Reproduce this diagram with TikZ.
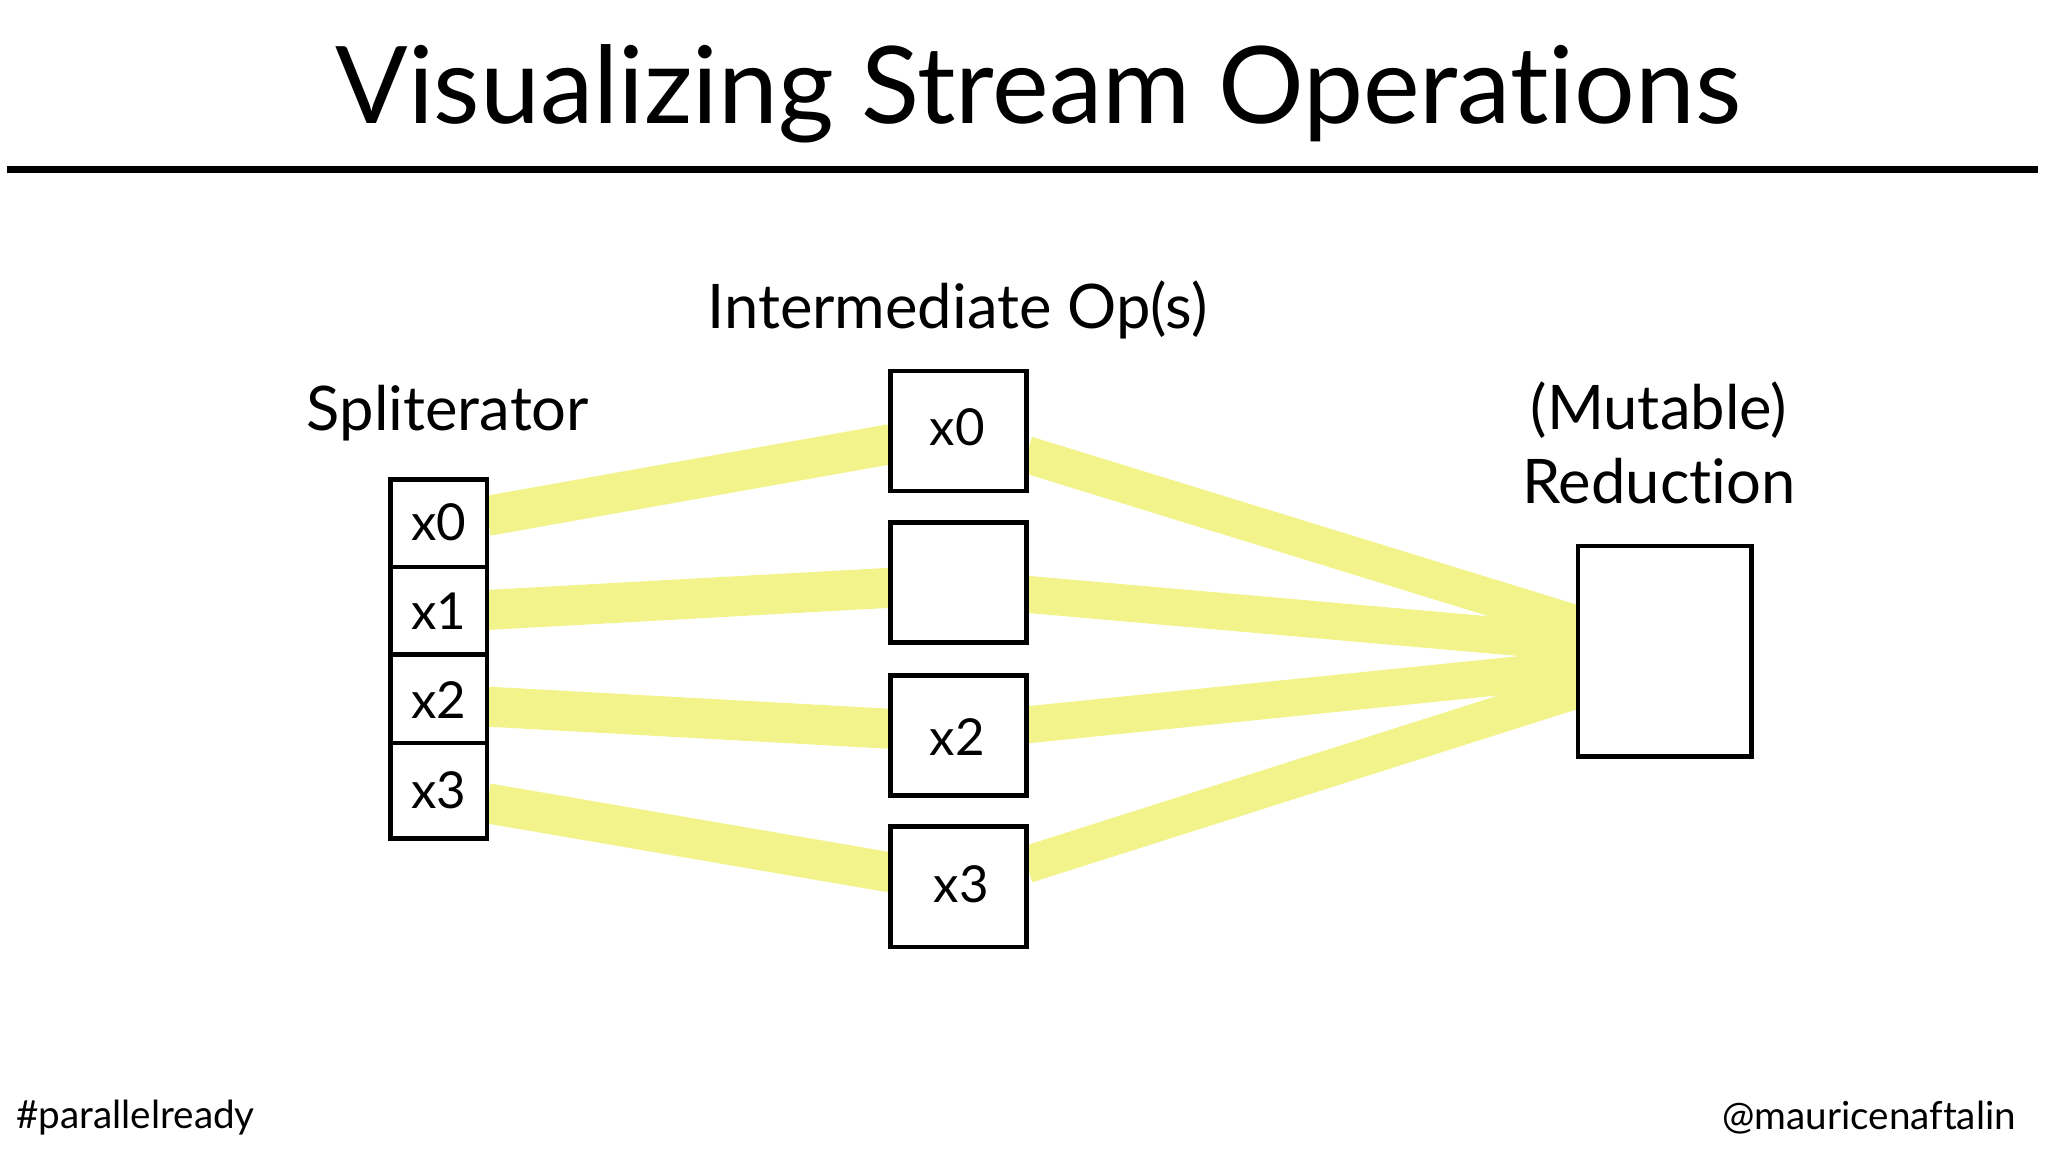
\documentclass[tikz,border=0pt]{standalone}
\usepackage{fontspec}
\setmainfont[Ligatures=NoCommon]{Lato}
\begin{document}
\begin{tikzpicture}[x=0.013061cm,y=-0.013061cm,
  band/.style={draw={rgb,255:red,243;green,243;blue,140},line width=0.4cm},
  lbl/.style={font=\fontsize{17.5}{21}\selectfont},
  itm/.style={font=\fontsize{14.5}{17}\selectfont}]
\useasboundingbox (0,0) rectangle (1568,882);
% bands
\coordinate (r1) at (1208,478);
\coordinate (r2) at (1208,492);
\coordinate (r3) at (1208,512);
\coordinate (r4) at (1208,528);
\draw[band] (373,395) -- (682,340);
\draw[band] (373,467) -- (682,450);
\draw[band] (373,541) -- (682,558);
\draw[band] (373,615) -- (682,668);
\draw[band,line width=0.37cm] (786,348) -- (r1);
\draw[band,line width=0.37cm] (786,455) -- (r2);
\draw[band,line width=0.37cm] (786,555) -- (r3);
\draw[band,line width=0.37cm] (786,662) -- (r4);
% title
\node[font=\fontsize{30.5}{36}\selectfont] (title) at (795,72) {Visualizing Stream Operations};
\draw[line width=2pt] (5,130) -- (1560,130);
% labels
\node[lbl] (lint) at (733,237) {Intermediate Op(s)};
\node[lbl] (lspl) at (343,316) {Spliterator};
\node[lbl,align=center] (lred) at (1270,339) {(Mutable)\\Reduction};
% spliterator
\draw[line width=1.3pt,fill=white] (299,367) rectangle (373,642);
\draw[line width=1.3pt] (299,434) -- (373,434) (299,501) -- (373,501) (299,569) -- (373,569);
\node[itm] (s0) at (336,400) {x0};
\node[itm] (s1) at (336,468) {x1};
\node[itm] (s2) at (336,536) {x2};
\node[itm] (s3) at (336,605) {x3};
% middle
\draw[line width=1.3pt,fill=white] (682,284) rectangle (786,376);
\draw[line width=1.3pt,fill=white] (682,400) rectangle (786,492);
\draw[line width=1.3pt,fill=white] (682,517) rectangle (786,609);
\draw[line width=1.3pt,fill=white] (682,633) rectangle (786,725);
\node[itm] (m0) at (733,327) {x0};
\node[itm] (m2) at (733,564) {x2};
\node[itm] (m3) at (736,677) {x3};
% reduction
\draw[line width=1.3pt,fill=white] (1208,418) rectangle (1341,579);
% footer
\node[font=\fontsize{11}{13}\selectfont,anchor=west] (f1) at (3,856) {\#parallelready};
\node[font=\fontsize{11}{13}\selectfont,anchor=east] (f2) at (1553,856) {@mauricenaftalin};
\end{tikzpicture}
\end{document}
